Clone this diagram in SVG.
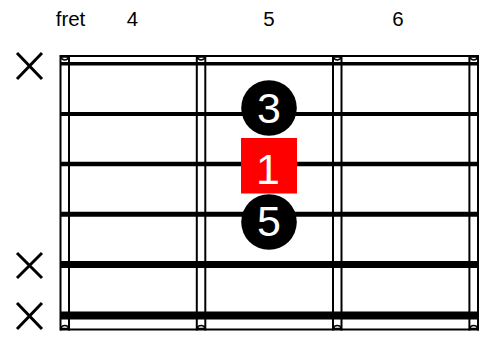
<svg xmlns="http://www.w3.org/2000/svg" width="487" height="338" viewBox="0 0 487 338">
<style>
.lbl{font-family:"Liberation Sans",Arial,sans-serif;font-size:20.5px;fill:#000;text-anchor:middle}
.num{font-family:"Liberation Sans",Arial,sans-serif;font-size:43px;fill:#fff;text-anchor:middle}
.fr{stroke:#000;stroke-width:2;fill:none}
.str{stroke:#000;fill:none}
.x{stroke:#000;stroke-width:3;fill:none}
.nut{fill:#fff;stroke:#000;stroke-width:1.5}
</style>
<rect width="487" height="338" fill="#fff"/>
<g id="labels">
<text class="lbl" x="70.5" y="25.5">fret</text>
<text class="lbl" x="132.5" y="25.5">4</text>
<text class="lbl" x="269" y="25.5">5</text>
<text class="lbl" x="398" y="25.5">6</text>
</g>
<g id="frame">
<line class="fr" x1="60" y1="56" x2="479" y2="56"/>
<line class="fr" x1="60" y1="329.5" x2="479" y2="329.5"/>
</g>
<g id="frets">
<line class="fr" x1="60.5" y1="55" x2="60.5" y2="330.5"/>
<line class="fr" x1="69" y1="55" x2="69" y2="330.5"/>
<line class="fr" x1="196.8" y1="55" x2="196.8" y2="330.5"/>
<line class="fr" x1="205.3" y1="55" x2="205.3" y2="330.5"/>
<line class="fr" x1="333" y1="55" x2="333" y2="330.5"/>
<line class="fr" x1="341.5" y1="55" x2="341.5" y2="330.5"/>
<line class="fr" x1="469.4" y1="55" x2="469.4" y2="330.5"/>
<line class="fr" x1="478" y1="55" x2="478" y2="330.5"/>
<path class="nut" d="M60.8 57 A4.2 4.2 0 0 0 68.8 57 Z"/>
<path class="nut" d="M197.1 57 A4.2 4.2 0 0 0 205.1 57 Z"/>
<path class="nut" d="M333.3 57 A4.2 4.2 0 0 0 341.3 57 Z"/>
<path class="nut" d="M469.7 57 A4.2 4.2 0 0 0 477.7 57 Z"/>
<path class="nut" d="M60.8 328.5 A4.2 4.2 0 0 1 68.8 328.5 Z"/>
<path class="nut" d="M197.1 328.5 A4.2 4.2 0 0 1 205.1 328.5 Z"/>
<path class="nut" d="M333.3 328.5 A4.2 4.2 0 0 1 341.3 328.5 Z"/>
<path class="nut" d="M469.7 328.5 A4.2 4.2 0 0 1 477.7 328.5 Z"/>
</g>
<g id="strings">
<line class="str" x1="60" y1="63.7" x2="479" y2="63.7" stroke-width="3.5"/>
<line class="str" x1="60" y1="113.9" x2="479" y2="113.9" stroke-width="4"/>
<line class="str" x1="60" y1="164.1" x2="479" y2="164.1" stroke-width="4.5"/>
<line class="str" x1="60" y1="214.3" x2="479" y2="214.3" stroke-width="5"/>
<line class="str" x1="60" y1="264.6" x2="479" y2="264.6" stroke-width="7"/>
<line class="str" x1="60" y1="315.4" x2="479" y2="315.4" stroke-width="8"/>
</g>
<g id="mutes">
<path class="x" d="M17 53 L42 79 M42 53 L17 79"/>
<path class="x" d="M17 253 L42 278 M42 253 L17 278"/>
<path class="x" d="M17 303 L42 329 M42 303 L17 329"/>
</g>
<g id="connectors"></g>
<g id="note3">
<circle cx="269" cy="108" r="27.8" fill="#000"/>
<text class="num" x="269" y="122.5">3</text>
</g>
<g id="note1">
<rect x="241" y="138" width="56" height="55.5" fill="#ff0000"/>
<text class="num" x="268" y="183.5">1</text>
</g>
<g id="note5">
<circle cx="269" cy="222" r="27.8" fill="#000"/>
<text class="num" x="269" y="235.5">5</text>
</g>
</svg>
